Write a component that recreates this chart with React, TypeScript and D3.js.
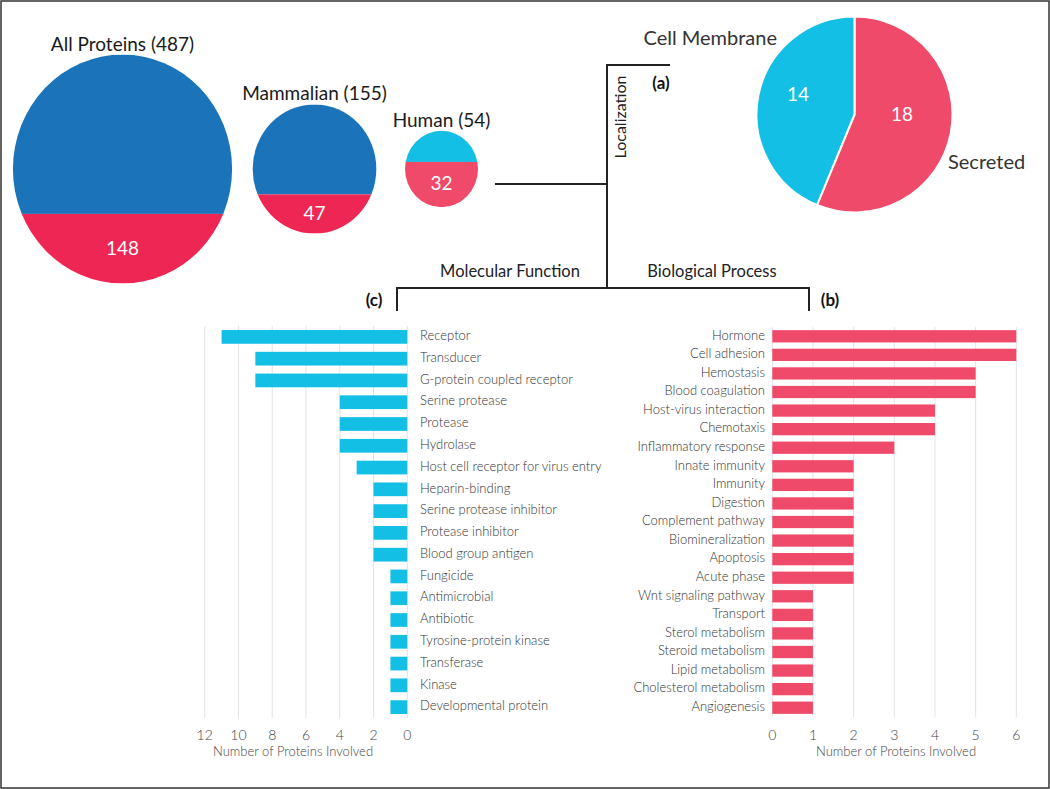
import React from "react";
import * as d3 from "d3";

const groupNames = ["All Proteins", "Mammalian", "Human"];
const groupTotals = [487, 155, 54];
const groupSecreted = [148, 47, 32];

const pieLabels = ["Secreted", "Cell Membrane"];
const pieValues = [18, 14];

const mfCategories = [
  "Receptor", "Transducer", "G-protein coupled receptor", "Serine protease", "Protease",
  "Hydrolase", "Host cell receptor for virus entry", "Heparin-binding", "Serine protease inhibitor",
  "Protease inhibitor", "Blood group antigen", "Fungicide", "Antimicrobial", "Antibiotic",
  "Tyrosine-protein kinase", "Transferase", "Kinase", "Developmental protein",
];
const mfValues = [11, 9, 9, 4, 4, 4, 3, 2, 2, 2, 2, 1, 1, 1, 1, 1, 1, 1];
const mfTicks = [0, 2, 4, 6, 8, 10, 12];

const bpCategories = [
  "Hormone", "Cell adhesion", "Hemostasis", "Blood coagulation", "Host-virus interaction",
  "Chemotaxis", "Inflammatory response", "Innate immunity", "Immunity", "Digestion",
  "Complement pathway", "Biomineralization", "Apoptosis", "Acute phase", "Wnt signaling pathway",
  "Transport", "Sterol metabolism", "Steroid metabolism", "Lipid metabolism",
  "Cholesterol metabolism", "Angiogenesis",
];
const bpValues = [6, 6, 5, 5, 4, 4, 3, 2, 2, 2, 2, 2, 2, 2, 1, 1, 1, 1, 1, 1, 1];
const bpTicks = [0, 1, 2, 3, 4, 5, 6];

const W = 1050;
const H = 789;
const FONT = "Lato, 'Open Sans', sans-serif";
const BLUE = "#1b74b9";
const RED = "#ee2653";
const CYAN = "#14bfe5";
const PINK = "#ef4a69";
const LINE = "#222";

export default function App() {
  // circles (reference is slightly stretched vertically)
  const rScale = d3.scaleSqrt().domain([0, 487]).range([0, 114.5]);
  const xStretch = 0.957;
  const circleCX = [122.5, 314.5, 441.5];
  const circleCY = 169;

  // pie
  const pieGen = d3.pie<number>().sort(null).value((d) => d);
  const arcs = pieGen(pieValues);
  const pieR = 98;
  const pieCX = 854.5;
  const pieCY = 114.5;
  const arcGen = d3.arc<d3.PieArcDatum<number>>().innerRadius(0).outerRadius(pieR);
  const pieColors = [PINK, CYAN];

  // left bar chart (Molecular Function)
  const xL = d3.scaleLinear().domain([0, 12]).range([407.3, 204.7]);
  const yL = d3.scaleBand<string>().domain(mfCategories).range([326, 718]).paddingInner(0.37).paddingOuter(0.185);

  // right bar chart (Biological Process)
  const xR = d3.scaleLinear().domain([0, 6]).range([772.3, 1016.3]);
  const yR = d3.scaleBand<string>().domain(bpCategories).range([327, 717]).paddingInner(0.34).paddingOuter(0.17);

  const clipIds = groupNames.map((_, i) => `clip-c${i}`);

  return (
    <svg width={W} height={H} style={{ position: "absolute", left: 0, top: 0, background: "#fff" }} fontFamily={FONT}>
      <rect x={0} y={0} width={W} height={H} fill="#fff" />
      <defs>
        {groupTotals.map((t, i) => (
          <clipPath id={clipIds[i]} key={i}>
            <ellipse cx={circleCX[i]} cy={circleCY} rx={rScale(t) * xStretch} ry={rScale(t)} />
          </clipPath>
        ))}
      </defs>

      {/* Circles */}
      {groupTotals.map((t, i) => {
        const r = rScale(t);
        const top = circleCY - r;
        const splitY = top + (2 * r) * (1 - groupSecreted[i] / t);
        const topColor = i === 2 ? CYAN : BLUE;
        const botColor = i === 2 ? PINK : RED;
        return (
          <g key={i}>
            <g clipPath={`url(#${clipIds[i]})`}>
              <rect x={circleCX[i] - r} y={top} width={2 * r} height={splitY - top} fill={topColor} />
              <rect x={circleCX[i] - r} y={splitY} width={2 * r} height={circleCY + r - splitY} fill={botColor} />
            </g>
            <text x={circleCX[i]} y={(splitY + circleCY + r) / 2 + 1} textAnchor="middle" dominantBaseline="middle" fill="#fff" fontSize={19}>
              {groupSecreted[i]}
            </text>
            <text x={circleCX[i]} y={top - 4} textAnchor="middle" fill="#1a1a1a" fontSize={19}>
              {`${groupNames[i]} (${t})`}
            </text>
          </g>
        );
      })}

      {/* Pie */}
      <g transform={`translate(${pieCX},${pieCY})`}>
        {arcs.map((a, i) => (
          <path key={i} d={arcGen(a) || ""} fill={pieColors[i]} stroke="#fff" strokeWidth={2} />
        ))}
      </g>
      <text x={902} y={116} textAnchor="middle" dominantBaseline="middle" fill="#fff" fontSize={19}>{pieValues[0]}</text>
      <text x={798} y={96} textAnchor="middle" dominantBaseline="middle" fill="#fff" fontSize={19}>{pieValues[1]}</text>
      <text x={777} y={45} textAnchor="end" fill="#333" fontSize={20}>{pieLabels[1]}</text>
      <text x={948} y={169} textAnchor="start" fill="#333" fontSize={20}>{pieLabels[0]}</text>

      {/* Connector lines */}
      <g stroke={LINE} strokeWidth={2} fill="none">
        <path d="M495,184 H607" />
        <path d="M670,65 H607 V288" />
        <path d="M397,311 V288 H809 V311" />
      </g>
      <text x={661} y={89} textAnchor="middle" fontSize={17} fontWeight={700} fill="#111">(a)</text>
      <text x={830} y={306} textAnchor="middle" fontSize={17} fontWeight={700} fill="#111">(b)</text>
      <text x={374} y={306} textAnchor="middle" fontSize={17} fontWeight={700} fill="#111">(c)</text>
      <text transform="translate(626,117) rotate(-90)" textAnchor="middle" fontSize={16} fill="#222">Localization</text>
      <text x={510} y={277} textAnchor="middle" fontSize={16.5} fill="#222">Molecular Function</text>
      <text x={712} y={277} textAnchor="middle" fontSize={16.5} fill="#222">Biological Process</text>

      {/* Left bar chart */}
      <g>
        {mfTicks.map((t) => (
          <line key={t} x1={xL(t)} x2={xL(t)} y1={326} y2={718} stroke="#e3e3e3" strokeWidth={1} />
        ))}
        {mfCategories.map((c, i) => (
          <rect key={c} x={xL(mfValues[i])} y={yL(c)} width={xL(0) - xL(mfValues[i])} height={yL.bandwidth()} fill={CYAN} />
        ))}
        {mfCategories.map((c) => (
          <text key={c} x={420} y={(yL(c) || 0) + yL.bandwidth() / 2} dominantBaseline="middle" fontSize={13} fontWeight={300} fill="#333">{c}</text>
        ))}
        {mfTicks.map((t) => (
          <text key={t} x={xL(t)} y={740} textAnchor="middle" fontSize={14} fontWeight={300} fill="#444">{t}</text>
        ))}
        <text x={293} y={756} textAnchor="middle" fontSize={13} fontWeight={300} fill="#444">Number of Proteins Involved</text>
      </g>

      {/* Right bar chart */}
      <g>
        {bpTicks.map((t) => (
          <line key={t} x1={xR(t)} x2={xR(t)} y1={327} y2={717} stroke="#e3e3e3" strokeWidth={1} />
        ))}
        {bpCategories.map((c, i) => (
          <rect key={c} x={xR(0)} y={yR(c)} width={xR(bpValues[i]) - xR(0)} height={yR.bandwidth()} fill={PINK} />
        ))}
        {bpCategories.map((c) => (
          <text key={c} x={765} y={(yR(c) || 0) + yR.bandwidth() / 2} textAnchor="end" dominantBaseline="middle" fontSize={13} fontWeight={300} fill="#333">{c}</text>
        ))}
        {bpTicks.map((t) => (
          <text key={t} x={xR(t)} y={740} textAnchor="middle" fontSize={14} fontWeight={300} fill="#444">{t}</text>
        ))}
        <text x={896} y={756} textAnchor="middle" fontSize={13} fontWeight={300} fill="#444">Number of Proteins Involved</text>
      </g>

      <rect x={1} y={1} width={W - 2} height={H - 2} fill="none" stroke="#333" strokeWidth={1.5} />
    </svg>
  );
}
